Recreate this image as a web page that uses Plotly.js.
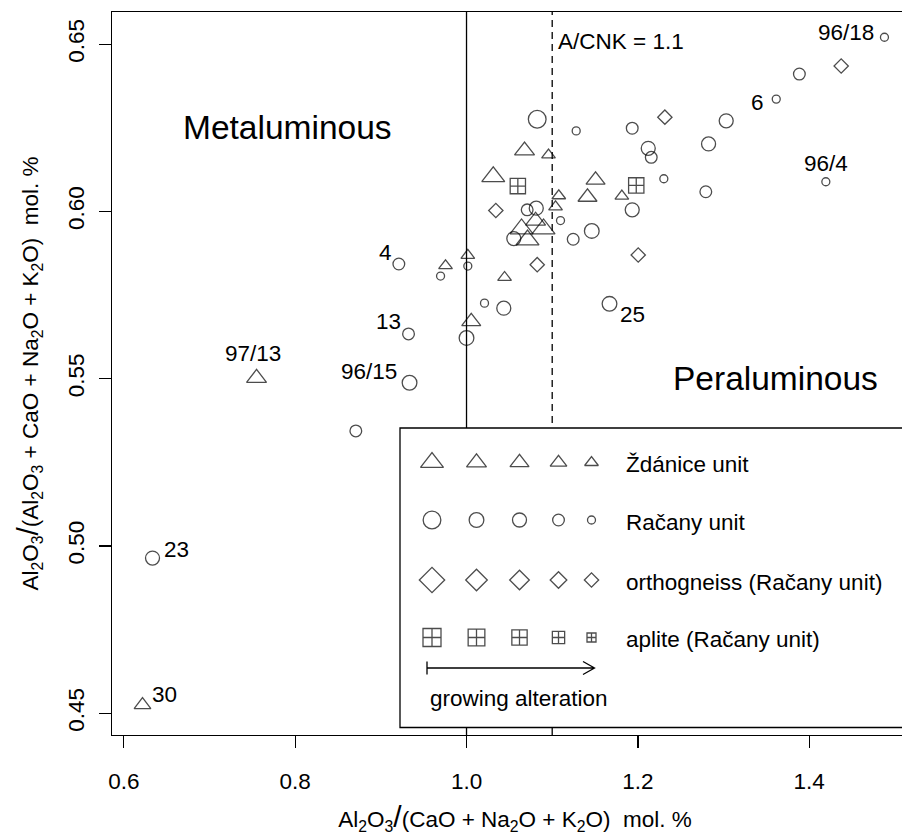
<!DOCTYPE html>
<html>
<head>
<meta charset="utf-8">
<script src="https://cdn.plot.ly/plotly-3.0.1.min.js"></script>
<style>
html, body { margin: 0; padding: 0; overflow: hidden; background: #fff; }
#chart { width: 930px; height: 839px; }
</style>
</head>
<body>
<div id="chart"></div>
<script>
// ---------------- DATA ----------------
// Ždánice unit (triangles)
const zdX   = [0.7549, 0.6218, 1.0677, 1.0957, 1.0312, 1.1506, 1.1077, 1.1412, 1.1813, 1.1039, 0.9755, 1.0015, 1.0444, 1.0055, 1.0642, 1.0806, 1.0899, 1.0712];
const zdY   = [0.5502, 0.4525, 0.6182, 0.6169, 0.6104, 0.6094, 0.6047, 0.6043, 0.6046, 0.6014, 0.5838, 0.5869, 0.5803, 0.5671, 0.5948, 0.5972, 0.5948, 0.5915];
const zdAlt = [2, 4, 2, 5, 1, 3, 5, 3, 5, 5, 5, 5, 5, 3, 1, 2, 1, 1];

// Račany unit (circles)
const rcX   = [1.0825, 1.1280, 1.1934, 1.2121, 1.2156, 1.2303, 1.1934, 1.0708, 1.0814, 1.1097, 1.0552, 1.1245, 1.1462, 0.9210, 0.9697, 1.0015, 1.0210, 1.0435, 1.1669, 1.0000, 0.9323, 0.9335, 0.8708, 0.6335, 1.4878, 1.3885, 1.3615, 1.3031, 1.2825, 1.2793, 1.4194];
const rcY   = [0.6276, 0.6241, 0.6249, 0.6189, 0.6162, 0.6098, 0.6005, 0.6005, 0.6010, 0.5973, 0.5919, 0.5917, 0.5942, 0.5843, 0.5807, 0.5837, 0.5726, 0.5711, 0.5724, 0.5622, 0.5634, 0.5488, 0.5344, 0.4964, 0.6521, 0.6411, 0.6336, 0.6271, 0.6202, 0.6059, 0.6089];
const rcAlt = [1, 5, 4, 3, 4, 5, 3, 4, 3, 5, 3, 4, 2, 4, 5, 5, 5, 3, 2, 2, 4, 2, 4, 3, 5, 4, 5, 3, 3, 4, 5];

// orthogneiss (Račany unit) (diamonds)
const orX   = [1.2315, 1.4373, 1.0342, 1.0825, 1.2004];
const orY   = [0.6282, 0.6435, 0.6003, 0.5841, 0.5870];
const orAlt = [5, 5, 5, 5, 5];

// aplite (Račany unit) (crossed squares)
const apX   = [1.0599, 1.1981];
const apY   = [0.6076, 0.6078];
const apAlt = [3, 3];

// sample labels: text and the point they belong to
const labelText   = ['96/18', '6', '96/4', '4', '13', '97/13', '96/15', '25', '23', '30'];
const labelSeries = ['rc', 'rc', 'rc', 'rc', 'rc', 'zd', 'rc', 'rc', 'rc', 'zd'];
const labelIndex  = [24, 26, 30, 13, 20, 0, 21, 18, 23, 1];

const seriesNames = ['Ždánice unit', 'Račany unit', 'orthogneiss (Račany unit)', 'aplite (Račany unit)'];
const altLevels = [1, 2, 3, 4, 5];
const xTicks = [0.6, 0.8, 1.0, 1.2, 1.4];
const yTicks = [0.45, 0.50, 0.55, 0.60, 0.65];
const acnkLines = [1.0, 1.1];

// ---------------- STYLE ----------------
const FONT = 'Liberation Sans, Arial, Helvetica, sans-serif';
const FS = 22.5;
const sizes = {
  zd: [19.9, 17.3, 16.5, 14.5, 11.9],
  rc: [17.7, 14.7, 14.0, 11.7, 8.0],
  or: [19.5, 16.6, 15.1, 12.8, 11.0],
  ap: [18.0, 16.7, 15.3, 12.3, 9.0]
};
const symbols = { zd: 'triangle-up-open', rc: 'circle-open', or: 'diamond-open', ap: 'square-cross-open' };
const labelShift = {
  '96/18': [-38, 5], '6': [-19, -3], '96/4': [0, 18], '4': [-13, 12], '13': [-20, 12],
  '97/13': [-4, 25], '96/15': [-41, 11], '25': [23, -11], '23': [24, 9], '30': [22, 10]
};

const W = 930, H = 839, ML = 112, MR = 12, MT = 12, MB = 104;
const PW = W - ML - MR, PH = H - MT - MB;
const px2paperX = px => (px - ML) / PW;
const px2paperY = py => (H - MB - py) / PH;

const data = {
  zd: [zdX, zdY, zdAlt], rc: [rcX, rcY, rcAlt], or: [orX, orY, orAlt], ap: [apX, apY, apAlt]
};
const keys = ['zd', 'rc', 'or', 'ap'];

const traces = [];
keys.forEach((k, i) => {
  const [xs, ys, alt] = data[k];
  traces.push({
    type: 'scatter', mode: 'markers', name: seriesNames[i], showlegend: false,
    x: xs, y: ys, xaxis: 'x', yaxis: 'y', hoverinfo: 'x+y+name',
    marker: { symbol: symbols[k], size: alt.map(a => sizes[k][a - 1]), color: '#000', line: { width: 1.3, color: '#000' } }
  });
});

// legend key (pixel-space overlay axes)
const legCols = [432, 476.5, 519.5, 558.5, 591.5];
const legRows = [462.5, 520, 580, 637.5];
keys.forEach((k, i) => {
  traces.push({
    type: 'scatter', mode: 'markers', showlegend: false, hoverinfo: 'skip',
    x: legCols, y: legCols.map(() => legRows[i]), xaxis: 'x2', yaxis: 'y2',
    marker: { symbol: symbols[k], size: altLevels.map(a => sizes[k][a - 1]), color: '#000', line: { width: 1.3, color: '#000' } }
  });
});

const annotations = [];
labelText.forEach((t, i) => {
  const [xs, ys] = data[labelSeries[i]];
  const sh = labelShift[t];
  annotations.push({
    text: t, x: xs[labelIndex[i]], y: ys[labelIndex[i]], xref: 'x', yref: 'y',
    xshift: sh[0], yshift: sh[1], showarrow: false, font: { family: FONT, size: FS, color: '#000' }
  });
});
annotations.push(
  { text: 'Metaluminous', x: 0.791, y: 0.625, xref: 'x', yref: 'y', showarrow: false, font: { family: FONT, size: 33.5, color: '#000' } },
  { text: 'Peraluminous', x: 1.3607, y: 0.5502, xref: 'x', yref: 'y', showarrow: false, font: { family: FONT, size: 33.5, color: '#000' } },
  { text: 'A/CNK = 1.1', x: 1.1039, y: 0.6507, xref: 'x', yref: 'y', xanchor: 'left', showarrow: false, font: { family: FONT, size: FS, color: '#000' } }
);
seriesNames.forEach((n, i) => {
  annotations.push({ text: n, x: 624, y: legRows[i] + 2, xref: 'x2', yref: 'y2', xanchor: 'left', showarrow: false, font: { family: FONT, size: FS, color: '#000' } });
});
annotations.push({ text: 'growing alteration', x: 428, y: 698, xref: 'x2', yref: 'y2', xanchor: 'left', showarrow: false, font: { family: FONT, size: FS, color: '#000' } });

const shapes = [];
acnkLines.forEach((v, i) => {
  shapes.push({ type: 'line', layer: 'below', xref: 'x', yref: 'paper', x0: v, x1: v, y0: 0, y1: 1,
    line: { color: '#000', width: 1.3, dash: i === 0 ? 'solid' : '7px,5px' } });
});
// legend box
shapes.push({ type: 'rect', layer: 'below', xref: 'paper', yref: 'paper',
  x0: px2paperX(400), x1: 1.05, y0: px2paperY(727.5), y1: px2paperY(428),
  fillcolor: '#fff', line: { color: '#000', width: 1.3 } });
// growing-alteration arrow
shapes.push({ type: 'path', xref: 'x2', yref: 'y2', layer: 'above',
  path: 'M427,668 H594.5 M427,661.5 V674.5 M583,661.5 L594.5,668 L583,674.5',
  line: { color: '#000', width: 1.3 } });

const bigSlash = '<span style="font-size:30px">/</span>';
const layout = {
  width: W, height: H,
  margin: { l: ML, r: MR, t: MT, b: MB, pad: 0 },
  paper_bgcolor: '#fff', plot_bgcolor: 'rgba(0,0,0,0)',
  showlegend: false,
  font: { family: FONT, size: FS, color: '#000' },
  xaxis: {
    range: [0.5862, 0.5862 + PW / 856.75], autorange: false,
    tickvals: xTicks, ticktext: xTicks.map(v => v.toFixed(1)),
    ticks: 'outside', ticklen: 12, tickwidth: 1.3, tickcolor: '#000',
    showline: true, mirror: true, linewidth: 1.3, linecolor: '#000',
    showgrid: false, zeroline: false, ticklabelstandoff: 14,
    tickfont: { family: FONT, size: FS, color: '#000' },
    title: { text: 'Al<sub>2</sub>O<sub>3</sub>' + bigSlash + '(CaO + Na<sub>2</sub>O + K<sub>2</sub>O)\u00a0 mol. %',
      font: { family: FONT, size: FS, color: '#000' }, standoff: 18 },
    automargin: false
  },
  yaxis: {
    range: [0.4435, 0.4435 + PH / 3345], autorange: false,
    tickvals: yTicks, ticktext: yTicks.map(v => v.toFixed(2)), tickangle: -90,
    ticks: 'outside', ticklen: 12, tickwidth: 1.3, tickcolor: '#000',
    showline: true, mirror: true, linewidth: 1.3, linecolor: '#000',
    showgrid: false, zeroline: false, ticklabelstandoff: 6,
    tickfont: { family: FONT, size: FS, color: '#000' },
    title: { text: 'Al<sub>2</sub>O<sub>3</sub>' + bigSlash + '(Al<sub>2</sub>O<sub>3</sub> + CaO + Na<sub>2</sub>O + K<sub>2</sub>O)\u00a0 mol. %',
      font: { family: FONT, size: FS, color: '#000' }, standoff: 18 },
    automargin: false
  },
  xaxis2: { overlaying: 'x', anchor: 'y2', range: [ML, W - MR], autorange: false, visible: false, fixedrange: true },
  yaxis2: { overlaying: 'y', anchor: 'x2', range: [H - MB, MT], autorange: false, visible: false, fixedrange: true },
  annotations: annotations,
  shapes: shapes
};

Plotly.newPlot('chart', traces, layout, { staticPlot: true, displayModeBar: false });
</script>
</body>
</html>
